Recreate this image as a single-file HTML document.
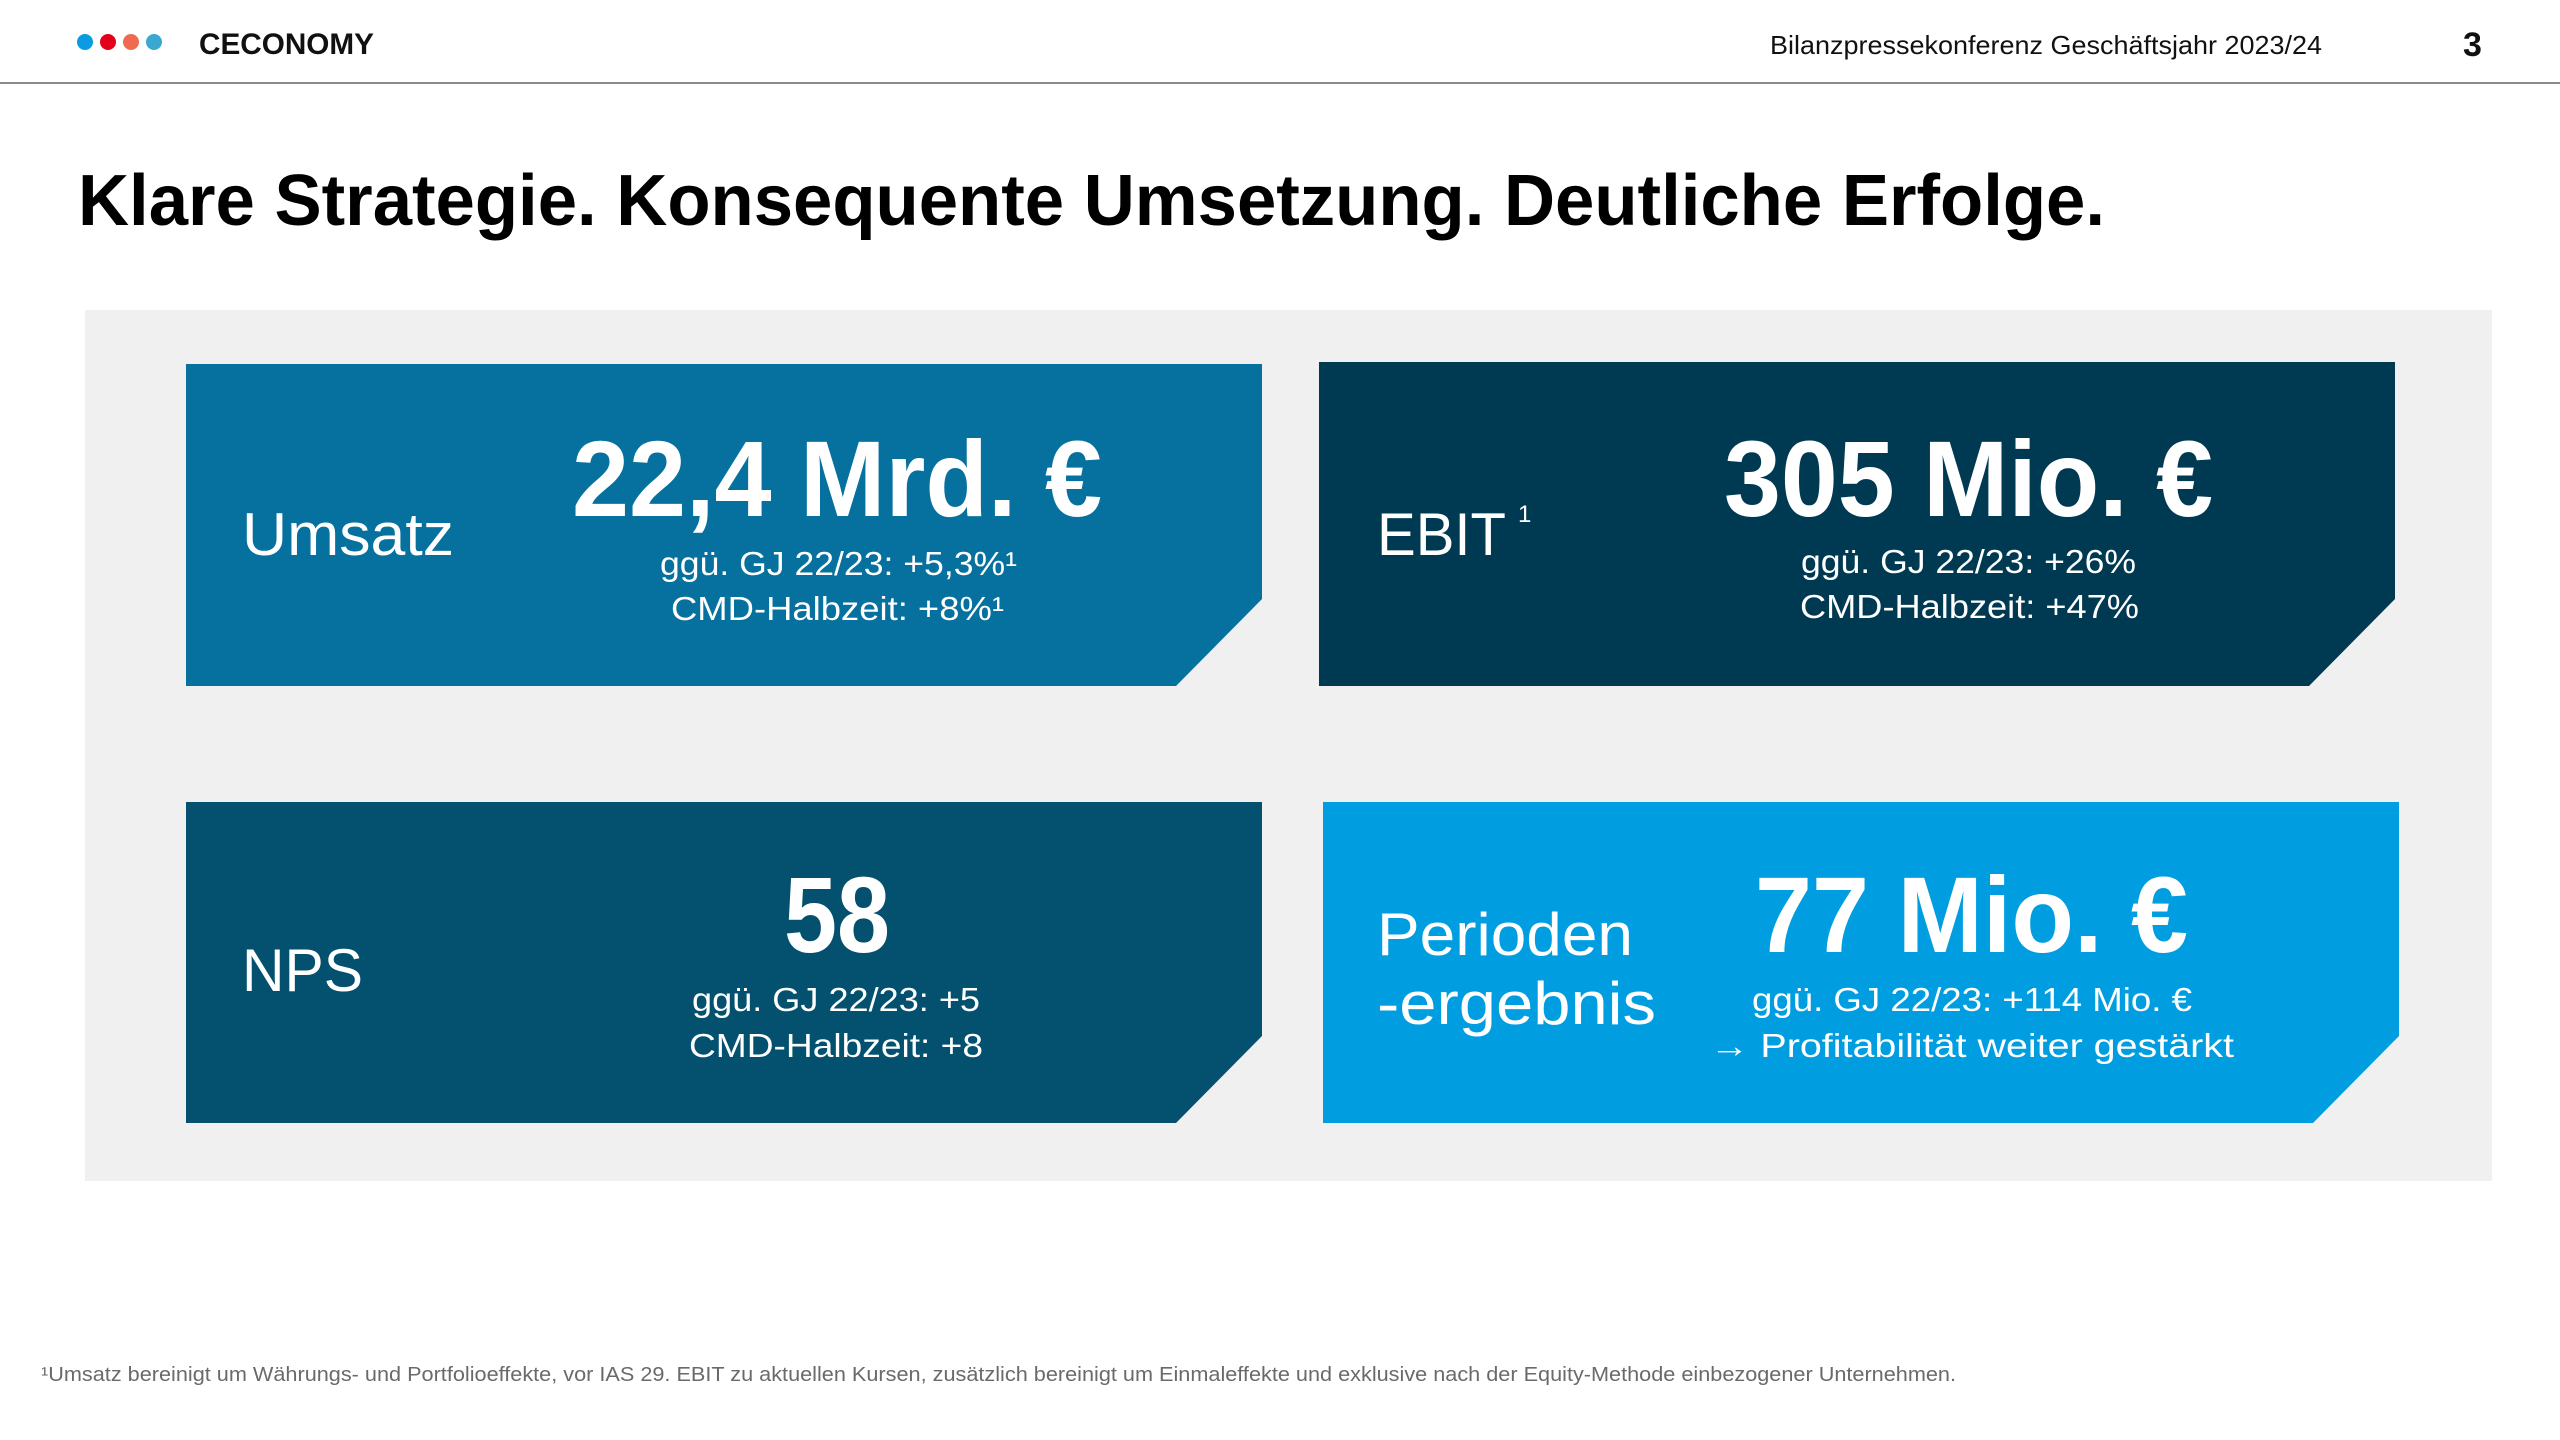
<!DOCTYPE html>
<html><head><meta charset="utf-8"><style>
html,body{margin:0;padding:0;background:#fff;}
svg{display:block;}
text{font-family:"Liberation Sans",sans-serif;}
</style></head><body>
<svg width="2560" height="1440" viewBox="0 0 2560 1440" xmlns="http://www.w3.org/2000/svg">
<rect width="2560" height="1440" fill="#fff"/>
<circle cx="85" cy="42" r="8" fill="#0b9be0"/>
<circle cx="108" cy="42" r="8" fill="#e3001b"/>
<circle cx="131" cy="42" r="8" fill="#ef6a50"/>
<circle cx="154" cy="42" r="8" fill="#3aa8d0"/>
<text x="199" y="54" font-size="30" font-weight="bold" fill="#111" textLength="175" lengthAdjust="spacingAndGlyphs">CECONOMY</text>
<text x="1770" y="54" font-size="26" fill="#111" textLength="552" lengthAdjust="spacingAndGlyphs">Bilanzpressekonferenz Geschäftsjahr 2023/24</text>
<text x="2463" y="56" font-size="34" font-weight="bold" fill="#111">3</text>
<rect x="0" y="82" width="2560" height="2" fill="#8a8a8a"/>
<text x="78" y="225" font-size="72" font-weight="bold" fill="#000" textLength="2027" lengthAdjust="spacingAndGlyphs">Klare Strategie. Konsequente Umsetzung. Deutliche Erfolge.</text>
<rect x="85" y="310" width="2407" height="871" fill="#f0f0f0"/>
<polygon points="186,364 1262,364 1262,599 1176,686 186,686" fill="#06709e"/>
<polygon points="1319,362 2395,362 2395,599 2309,686 1319,686" fill="#003a52"/>
<polygon points="186,802 1262,802 1262,1036 1176,1123 186,1123" fill="#03506f"/>
<polygon points="1323,802 2399,802 2399,1036 2313,1123 1323,1123" fill="#009ee0"/>
<g fill="#fff">
<text x="242" y="555" font-size="60" textLength="212" lengthAdjust="spacingAndGlyphs">Umsatz</text>
<text x="572" y="516" font-size="108" font-weight="bold" textLength="530" lengthAdjust="spacingAndGlyphs">22,4 Mrd. €</text>
<text x="660" y="575" font-size="33" textLength="357" lengthAdjust="spacingAndGlyphs">ggü. GJ 22/23: +5,3%¹</text>
<text x="671" y="620" font-size="33" textLength="333" lengthAdjust="spacingAndGlyphs">CMD-Halbzeit: +8%¹</text>

<text x="1377" y="555" font-size="60" textLength="129" lengthAdjust="spacingAndGlyphs">EBIT</text>
<text x="1518" y="522" font-size="24">1</text>
<text x="1724" y="516" font-size="108" font-weight="bold" textLength="489" lengthAdjust="spacingAndGlyphs">305 Mio. €</text>
<text x="1801" y="573" font-size="33" textLength="335" lengthAdjust="spacingAndGlyphs">ggü. GJ 22/23: +26%</text>
<text x="1800" y="618" font-size="33" textLength="339" lengthAdjust="spacingAndGlyphs">CMD-Halbzeit: +47%</text>

<text x="242" y="991" font-size="60" textLength="121" lengthAdjust="spacingAndGlyphs">NPS</text>
<text x="784" y="952" font-size="108" font-weight="bold" textLength="106" lengthAdjust="spacingAndGlyphs">58</text>
<text x="692" y="1011" font-size="33" textLength="288" lengthAdjust="spacingAndGlyphs">ggü. GJ 22/23: +5</text>
<text x="689" y="1057" font-size="33" textLength="294" lengthAdjust="spacingAndGlyphs">CMD-Halbzeit: +8</text>

<text x="1377" y="955" font-size="60" textLength="256" lengthAdjust="spacingAndGlyphs">Perioden</text>
<text x="1377" y="1024" font-size="60" textLength="279" lengthAdjust="spacingAndGlyphs">-ergebnis</text>
<text x="1755" y="952" font-size="108" font-weight="bold" textLength="433" lengthAdjust="spacingAndGlyphs">77 Mio. €</text>
<text x="1752" y="1011" font-size="33" textLength="440" lengthAdjust="spacingAndGlyphs">ggü. GJ 22/23: +114 Mio. €</text>
<text x="1710" y="1057" font-size="33" textLength="524" lengthAdjust="spacingAndGlyphs">→ Profitabilität weiter gestärkt</text>
</g>
<text x="41" y="1381" font-size="20" fill="#6a6a6a" textLength="1915" lengthAdjust="spacingAndGlyphs">¹Umsatz bereinigt um Währungs- und Portfolioeffekte, vor IAS 29. EBIT zu aktuellen Kursen, zusätzlich bereinigt um Einmaleffekte und exklusive nach der Equity-Methode einbezogener Unternehmen.</text>
</svg>
</body></html>
